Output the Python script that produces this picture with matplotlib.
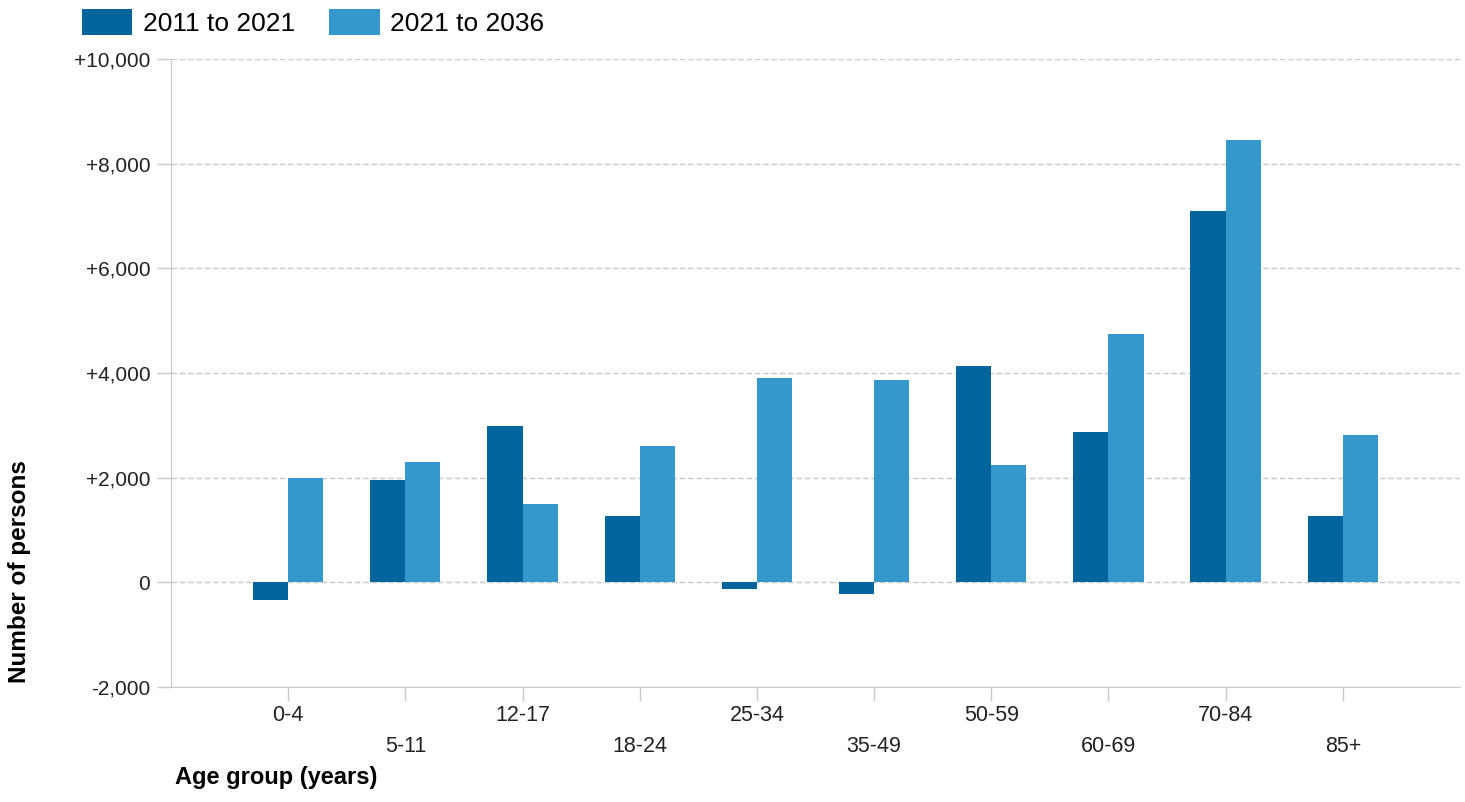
import numpy as np
from matplotlib import pyplot as plt
from matplotlib import rcParams

rcParams['font.family'] = 'sans-serif'
rcParams['font.sans-serif'] = ['Liberation Sans', 'DejaVu Sans']

#%% data
age_groups = ['0-4', '5-11', '12-17', '18-24', '25-34', '35-49', '50-59', '60-69', '70-84', '85+']
change_2011_2021 = [-330, 1950, 2980, 1270, -130, -220, 4130, 2875, 7100, 1265]
change_2021_2036 = [1990, 2300, 1500, 2600, 3900, 3860, 2250, 4740, 8450, 2820]
series_names = ['2011 to 2021', '2021 to 2036']
yticks = [-2000, 0, 2000, 4000, 6000, 8000, 10000]

c_dark = '#03659c'
c_light = '#3598cc'
c_grid = '#c9c9c9'

#%%
fig, ax = plt.subplots(1, 1, figsize=(14.65, 8.02), dpi=100)
fig.subplots_adjust(left=0.1167, right=0.9966, top=0.9264, bottom=0.1434)

x = np.arange(1, len(age_groups)+1)
w = 0.30
b1 = ax.bar(x-w/2, change_2011_2021, width=w, color=c_dark, label=series_names[0], zorder=3)
b2 = ax.bar(x+w/2, change_2021_2036, width=w, color=c_light, label=series_names[1], zorder=3)

ax.set_xlim(0, 11)
ax.set_ylim(-2000, 10000)
ax.set_yticks(yticks)
ax.set_yticklabels([f'{v:+,d}' if v != 0 else '0' for v in yticks])
ax.yaxis.grid(True, linestyle=(0, (4, 2)), color=c_grid, linewidth=1.0, zorder=0)
ax.set_axisbelow(True)

ax.set_xticks(x)
ax.set_xticklabels(['' for _ in age_groups])
for i, lab in enumerate(age_groups):
    yoff = -0.045 if i % 2 == 0 else -0.095
    ax.text(x[i], yoff, lab, transform=ax.get_xaxis_transform(), ha='center', va='center', fontsize=15.5, color='#222222')

for s in ['top', 'right']:
    ax.spines[s].set_visible(False)
ax.spines['left'].set_color(c_grid)
ax.spines['bottom'].set_color(c_grid)
ax.tick_params(axis='both', colors=c_grid, labelcolor='#222222', labelsize=15, length=10, width=1)
ax.tick_params(axis='y', pad=5)

fig.text(0.0136, 0.287, 'Number of persons', rotation=90, ha='center', va='center', fontsize=17.5, fontweight='bold')
fig.text(0.1195, 0.016, 'Age group (years)', ha='left', va='bottom', fontsize=17, fontweight='bold')

leg = fig.legend(handles=[b1, b2], loc='upper left', bbox_to_anchor=(0.040, 1.018), ncol=2, frameon=False,
                 fontsize=19, handlelength=1.9, handleheight=1.1, columnspacing=1.3, handletextpad=0.4)

fig.savefig('out.png', dpi=100)
